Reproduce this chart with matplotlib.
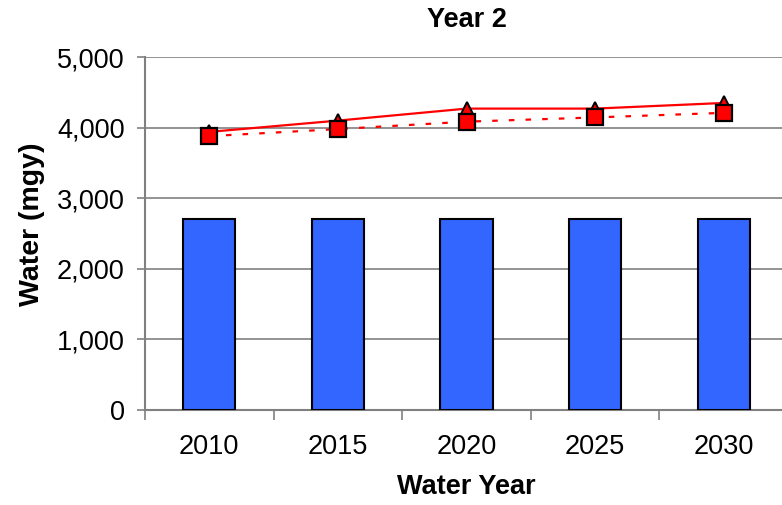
import numpy as np
import matplotlib
matplotlib.use("Agg")
import matplotlib.pyplot as plt

plt.rcParams['font.family'] = ['Liberation Sans', 'DejaVu Sans']

# data
years = ['2010', '2015', '2020', '2025', '2030']
supply = [2700, 2700, 2700, 2700, 2700]
demand_high = [3940, 4100, 4270, 4270, 4350]
demand_low = [3880, 3980, 4085, 4145, 4210]

fig = plt.figure(figsize=(7.82, 5.05), dpi=100)
ax = fig.add_axes([0.1854, 0.188, 0.8223, 0.699])

x = np.arange(len(years))
ax.bar(x, supply, width=0.405, color='#3366FF', edgecolor='black', linewidth=1.5, zorder=3)

ax.plot(x, demand_high, color='#FF0000', linewidth=1.6, marker='^', markersize=10,
        markerfacecolor='#FF0000', markeredgecolor='black', markeredgewidth=1.4, zorder=4)
ax.plot(x, demand_low, color='#FF0000', linewidth=1.6, linestyle=(0, (2.5, 5)), marker='s',
        markersize=11, markerfacecolor='#FF0000', markeredgecolor='black', markeredgewidth=1.6,
        zorder=5)

ax.set_xlim(-0.5, len(years) - 0.5)
ax.set_ylim(0, 5000)
ax.set_yticks(np.arange(0, 5001, 1000))
ax.set_yticklabels([f'{v:,}' for v in range(0, 5001, 1000)])
ax.set_xticks(x)
ax.set_xticklabels(years)
ax.set_xticks(np.arange(-0.5, len(years), 1), minor=True)

ax.yaxis.grid(True, color='#808080', linewidth=1.2, zorder=0)
ax.set_axisbelow(True)

for side in ['top', 'right']:
    ax.spines[side].set_visible(False)
for side in ['left', 'bottom']:
    ax.spines[side].set_color('#808080')
    ax.spines[side].set_linewidth(1.5)

ax.tick_params(axis='y', direction='out', length=6, width=1.2, color='#808080',
               labelsize=19.5, pad=8.5)
ax.tick_params(axis='x', which='major', length=0, labelsize=19.5, pad=17)
ax.tick_params(axis='x', which='minor', direction='out', length=7, width=1.2, color='#808080')

ax.set_title('Year 2', fontsize=19.5, fontweight='bold', pad=22)
ax.set_xlabel('Water Year', fontsize=19.5, fontweight='bold', labelpad=10)
# y label sits a bit above the axes centre in the reference
fig.text(32 / 782, 1 - 224.5 / 505, 'Water (mgy)', fontsize=20.5, fontweight='bold',
         rotation=90, ha='center', va='center')

fig.savefig('out.png', dpi=100)
